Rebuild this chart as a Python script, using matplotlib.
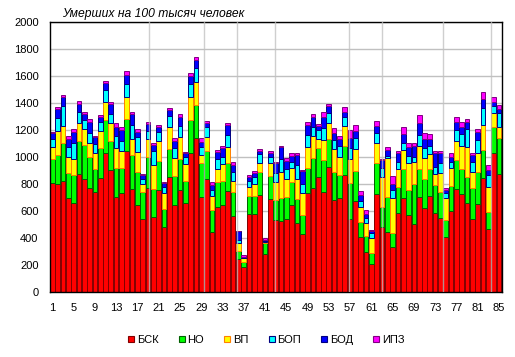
import numpy as np
import matplotlib.pyplot as plt
from matplotlib.lines import Line2D

# deaths per 100k by cause, 85 regions, stacked
bsk = [805, 800, 825, 694, 657, 872, 837, 768, 738, 844, 1032, 901, 706, 731, 1042, 760, 647,
       543, 770, 553, 753, 479, 849, 642, 753, 657, 1032, 1138, 704, 837, 442, 630, 642, 751,
       565, 242, 183, 575, 575, 716, 279, 686, 533, 526, 538, 644, 514, 427, 736, 768, 854,
       743, 923, 681, 694, 867, 538, 677, 405, 299, 205, 723, 484, 447, 336, 583, 694, 570,
       501, 706, 620, 714, 583, 546, 410, 602, 760, 723, 662, 538, 649, 842, 464, 1032, 872]
no = [183, 217, 276, 190, 210, 244, 249, 229, 171, 225, 242, 220, 215, 190, 242, 252, 242,
      200, 227, 210, 220, 138, 210, 215, 235, 165, 242, 250, 249, 210, 165, 182, 178, 207,
      176, 64, 42, 138, 138, 173, 86, 176, 148, 168, 168, 173, 172, 143, 185, 227, 215,
      235, 210, 210, 173, 214, 267, 219, 116, 118, 81, 230, 148, 259, 104, 197, 215, 185,
      299, 205, 217, 195, 210, 197, 123, 183, 218, 188, 192, 230, 242, 210, 131, 193, 271]
vp = [88, 178, 131, 118, 116, 133, 119, 109, 123, 121, 136, 128, 143, 126, 163, 119, 150,
      57, 136, 178, 148, 119, 161, 138, 158, 124, 173, 170, 64, 104, 104, 99, 131, 118,
      81, 54, 27, 67, 89, 69, 5, 91, 136, 197, 129, 99, 149, 161, 155, 161, 64,
      148, 121, 166, 135, 151, 178, 161, 111, 97, 112, 153, 222, 284, 254, 129, 143, 203,
      163, 170, 153, 113, 79, 136, 161, 136, 143, 173, 218, 118, 141, 185, 185, 98, 82]
bop = [55, 91, 148, 70, 118, 87, 69, 69, 64, 72, 86, 69, 92, 74, 94, 106, 107,
       35, 62, 106, 67, 44, 86, 69, 81, 51, 94, 99, 55, 74, 45, 72, 51, 87,
       69, 25, 3, 45, 47, 62, 5, 49, 62, 92, 74, 50, 106, 69, 89, 69, 67,
       86, 69, 69, 79, 62, 81, 81, 42, 37, 37, 69, 62, 20, 62, 57, 49, 49,
       39, 82, 74, 59, 56, 79, 37, 44, 79, 86, 133, 74, 94, 123, 87, 57, 98]
bod = [44, 69, 62, 64, 82, 61, 44, 87, 50, 37, 55, 79, 69, 81, 66, 81, 42,
       29, 49, 42, 32, 25, 42, 54, 67, 30, 61, 61, 41, 24, 34, 52, 62, 74,
       50, 64, 7, 24, 35, 24, 10, 25, 74, 89, 64, 41, 71, 96, 74, 69, 32,
       82, 57, 49, 50, 42, 79, 55, 44, 27, 15, 59, 62, 42, 44, 61, 69, 69,
       79, 86, 67, 50, 99, 69, 25, 37, 62, 55, 52, 52, 62, 67, 37, 30, 30]
ipz = [13, 15, 17, 17, 22, 18, 15, 17, 10, 12, 12, 10, 24, 18, 30, 15, 19,
       10, 15, 17, 17, 7, 12, 20, 24, 10, 18, 20, 28, 18, 22, 17, 17, 12,
       19, 6, 12, 18, 12, 13, 12, 15, 10, 9, 20, 25, 15, 8, 20, 22, 12,
       37, 17, 37, 24, 32, 57, 44, 30, 27, 9, 33, 10, 20, 59, 17, 50, 25,
       20, 60, 49, 37, 15, 15, 12, 25, 37, 32, 22, 15, 17, 52, 34, 32, 32]

names = ['БСК', 'НО', 'ВП', 'БОП', 'БОД', 'ИПЗ']
faces = ['#ff0000', '#00ff00', '#ffff00', '#00ffff', '#0000ff', '#ff00ff']
edges = ['#800000', '#006000', '#ff8000', '#000080', '#000080', '#800080']
vgrid = [19.23, 29.56, 35.65, 42.85, 56.81, 63.01, 74.48, 83.58]  # odd excel gridlines

plt.rcParams['font.family'] = ['Liberation Sans', 'DejaVu Sans']

fig = plt.figure(figsize=(5.15, 3.57), dpi=100)
ax = fig.add_axes([0.0965, 0.182, 0.8775, 0.756])

x = np.arange(1, 86)
bottom = np.zeros(85)
for vals, fc, ec in zip([bsk, no, vp, bop, bod, ipz], faces, edges):
    vals = np.array(vals, dtype=float)
    ax.bar(x, vals, bottom=bottom, width=0.88, color=fc, edgecolor=ec,
           linewidth=0.7, zorder=2)
    bottom += vals

for v in vgrid:
    ax.axvline(v, color='#c0c0c0', lw=1, alpha=0.75, zorder=3)

ax.set_xlim(0.5, 85.5)
ax.set_ylim(0, 2000)
ax.set_yticks(np.arange(0, 2001, 200))
ax.set_xticks(np.arange(1, 86, 4))
ax.yaxis.grid(True, color='#c0c0c0', lw=1)
ax.set_axisbelow(True)
ax.tick_params(length=0, labelsize=8, pad=8)
for s in ax.spines.values():
    s.set_color('black')
    s.set_linewidth(1)

ax.text(0.027, 1.008, 'Умерших на 100 тысяч человек', transform=ax.transAxes,
        fontsize=8.7, style='italic', ha='left', va='bottom')

handles = [Line2D([], [], ls='none', marker='s', markersize=4.5, markerfacecolor=fc,
                  markeredgecolor=ec, markeredgewidth=0.8) for fc, ec in zip(faces, edges)]
fig.legend(handles, names, loc='center', bbox_to_anchor=(0.517, 0.047), ncol=6, frameon=False,
           fontsize=8, handlelength=0.6, handletextpad=0.2, columnspacing=1.8)

plt.savefig('out.png', dpi=100)
